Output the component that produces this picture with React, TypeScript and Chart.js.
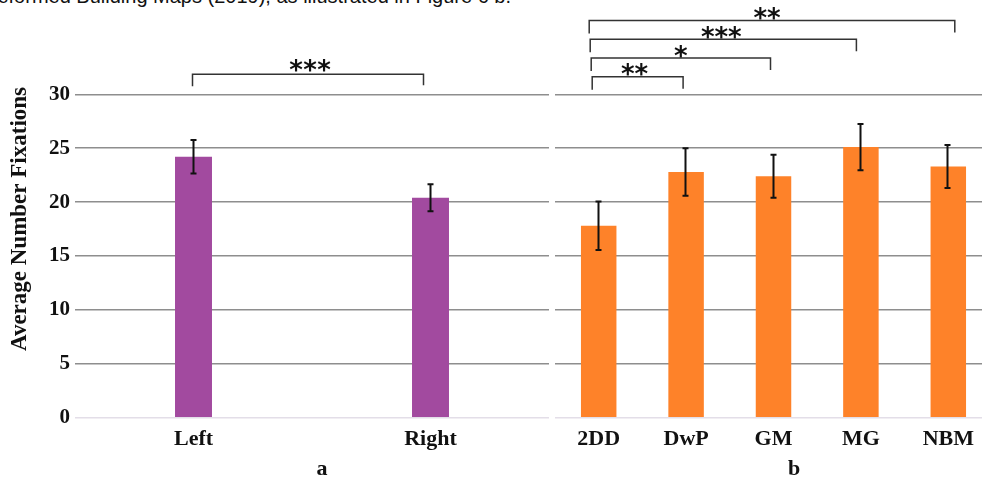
import React, { useEffect, useRef } from "react";
import { Chart, registerables } from "chart.js";

Chart.register(...registerables);

// ---------- data ----------
const leftCategories = ["Left", "Right"];
const leftValues = [24.2, 20.4];
const leftErrors = [1.55, 1.25];

const rightCategories = ["2DD", "DwP", "GM", "MG", "NBM"];
const rightValues = [17.8, 22.8, 22.4, 25.1, 23.3];
const rightErrors = [2.25, 2.2, 2.0, 2.15, 2.0];

const yMin = 0;
const yMax = 30;
const yStep = 5;

const yTitle = "Average Number Fixations";
const leftPanelLabel = "a";
const rightPanelLabel = "b";
const captionText = "Deformed Building Maps (2019), as illustrated in Figure 6 b.";

// significance brackets (category indexes), listed from lowest to highest
const leftBrackets = [{ from: 0, to: 1, stars: "***" }];
const rightBrackets = [
  { from: 0, to: 1, stars: "**" },
  { from: 0, to: 2, stars: "*" },
  { from: 0, to: 3, stars: "***" },
  { from: 0, to: 4, stars: "**" },
];

// ---------- styles ----------
const SERIF = "'Liberation Serif', 'Times New Roman', serif";
const PURPLE = "#a24a9f";
const ORANGE = "#fe8229";
const GRID = "#8e8e8e";
const ZERO = "#e3dee8";

const errorBarPlugin = {
  id: "errorBars",
  afterDatasetsDraw(chart: any, _args: any, opts: any) {
    const { ctx } = chart;
    const meta = chart.getDatasetMeta(0);
    const ys = chart.scales.y;
    const vals = chart.data.datasets[0].data as number[];
    const errs = opts.errors as number[];
    ctx.save();
    ctx.strokeStyle = "#111";
    ctx.lineWidth = 2;
    meta.data.forEach((bar: any, i: number) => {
      const x = Math.round(bar.x) - 0.5;
      const top = ys.getPixelForValue(vals[i] + errs[i]);
      const bot = ys.getPixelForValue(vals[i] - errs[i]);
      ctx.beginPath();
      ctx.moveTo(x, top);
      ctx.lineTo(x, bot);
      ctx.moveTo(x - 3, top);
      ctx.lineTo(x + 3, top);
      ctx.moveTo(x - 3, bot);
      ctx.lineTo(x + 3, bot);
      ctx.stroke();
    });
    ctx.restore();
  },
};

const yTitlePlugin = {
  id: "yTitleCustom",
  afterDraw(chart: any, _args: any, opts: any) {
    if (!opts || !opts.text) return;
    const { ctx } = chart;
    ctx.save();
    ctx.translate(opts.x, opts.y);
    ctx.rotate(-Math.PI / 2);
    ctx.fillStyle = "#111";
    ctx.font = `bold 23px ${SERIF}`;
    ctx.textAlign = "center";
    ctx.textBaseline = "middle";
    ctx.fillText(opts.text, 0, 0);
    ctx.restore();
  },
};

const bracketPlugin = {
  id: "brackets",
  afterDraw(chart: any, _args: any, opts: any) {
    const { ctx, chartArea } = chart;
    const xs = chart.scales.x;
    ctx.save();
    (opts.items as any[]).forEach((b, level) => {
      const yLine = chartArea.top - opts.base - level * opts.step;
      const x1 = xs.getPixelForValue(b.from) + opts.startNudge - level;
      const x2 = xs.getPixelForValue(b.to) + (opts.endNudges[level] ?? 0);
      ctx.strokeStyle = "#333";
      ctx.lineWidth = 1.5;
      ctx.beginPath();
      ctx.moveTo(x1, yLine + opts.tick + 1);
      ctx.lineTo(x1, yLine);
      ctx.lineTo(x2, yLine);
      ctx.lineTo(x2, yLine + opts.tick);
      ctx.stroke();
      // stars
      ctx.fillStyle = "#111";
      ctx.font = "bold 26px 'DejaVu Sans'";
      ctx.textAlign = "center";
      ctx.textBaseline = "alphabetic";
      const n = b.stars.length;
      const cx = (x1 + x2) / 2 + (opts.starNudges[level] ?? 0);
      const cy = yLine - opts.starGap;
      for (let k = 0; k < n; k++) {
        const sx = cx + (k - (n - 1) / 2) * opts.starSpacing;
        ctx.fillText("*", sx, cy + 14.5);
      }
    });
    ctx.restore();
  },
};

function baseScales(showY: boolean, yWidth: number) {
  return {
    x: {
      grid: { display: false },
      border: { display: false },
      ticks: {
        color: "#111",
        font: { family: SERIF, size: 22, weight: "bold" },
        padding: 0,
      },
      afterFit: (s: any) => {
        s.height = 63.3;
      },
    },
    y: {
      min: yMin,
      max: yMax,
      border: { display: false },
      grid: {
        color: (c: any) => (c.tick && c.tick.value === 0 ? ZERO : GRID),
        lineWidth: 1.5,
        drawTicks: false,
      },
      ticks: {
        display: showY,
        stepSize: yStep,
        color: "#111",
        font: { family: SERIF, size: 21, weight: "bold" },
        padding: 5,
      },
      title: { display: false },
      afterFit: (s: any) => {
        s.width = yWidth;
      },
    },
  };
}

function BarPanel(props: {
  labels: string[];
  values: number[];
  errors: number[];
  color: string;
  barPct: number;
  showY: boolean;
  yWidth: number;
  padRight: number;
  brackets: any;
  left: number;
  width: number;
}) {
  const ref = useRef<HTMLCanvasElement | null>(null);
  useEffect(() => {
    if (!ref.current) return;
    const chart = new Chart(ref.current, {
      type: "bar",
      data: {
        labels: props.labels,
        datasets: [
          {
            data: props.values,
            backgroundColor: props.color,
            borderWidth: 0,
            barPercentage: props.barPct,
            categoryPercentage: 1,
          },
        ],
      },
      options: {
        animation: false,
        responsive: false,
        maintainAspectRatio: false,
        devicePixelRatio: 1,
        layout: { padding: { top: 94.3, right: props.padRight, left: 0, bottom: 0 } },
        plugins: {
          legend: { display: false },
          tooltip: { enabled: false },
          errorBars: { errors: props.errors },
          brackets: props.brackets,
          yTitleCustom: props.showY ? { text: yTitle, x: 20, y: 219 } : {},
        } as any,
        scales: baseScales(props.showY, props.yWidth) as any,
      },
      plugins: [errorBarPlugin, bracketPlugin, yTitlePlugin],
    });
    return () => chart.destroy();
  }, []);
  return (
    <canvas
      ref={ref}
      width={props.width}
      height={481}
      style={{
        position: "absolute",
        left: props.left,
        top: 0,
        width: props.width,
        height: 481,
        display: "block",
      }}
    />
  );
}

const panelLetterStyle: React.CSSProperties = {
  position: "absolute",
  width: 60,
  top: 457,
  textAlign: "center",
  fontFamily: SERIF,
  fontWeight: "bold",
  fontSize: 22,
  lineHeight: "22px",
  color: "#111",
};

export default function App() {
  return (
    <div
      style={{
        position: "fixed",
        left: 0,
        top: 0,
        width: 982,
        height: 481,
        overflow: "hidden",
        background: "#fff",
      }}
    >
      <div
        style={{
          position: "absolute",
          left: -17,
          top: -14.5,
          whiteSpace: "nowrap",
          fontFamily: "'Liberation Sans', Arial, sans-serif",
          fontSize: 20,
          lineHeight: "20px",
          color: "#111",
        }}
      >
        {captionText}
      </div>
      <BarPanel
        labels={leftCategories}
        values={leftValues}
        errors={leftErrors}
        color={PURPLE}
        barPct={0.156}
        showY={true}
        yWidth={75}
        padRight={3}
        left={0}
        width={552}
        brackets={{
          items: leftBrackets,
          base: 20,
          step: 18.7,
          tick: 11,
          startNudge: -1,
          endNudges: [-7],
          starNudges: [2],
          starGap: 10,
          starSpacing: 14,
        }}
      />
      <BarPanel
        labels={rightCategories}
        values={rightValues}
        errors={rightErrors}
        color={ORANGE}
        barPct={0.406}
        showY={false}
        yWidth={0}
        padRight={3}
        left={555}
        width={440}
        brackets={{
          items: rightBrackets,
          base: 17.6,
          step: 18.7,
          tick: 12,
          startNudge: -6.5,
          endNudges: [-3, -3, -4.5, 6.5],
          starNudges: [-3, 0, -2, -5],
          starGap: 8,
          starSpacing: 13.5,
        }}
      />
      <div style={{ ...panelLetterStyle, left: 322 - 30 }}>{leftPanelLabel}</div>
      <div style={{ ...panelLetterStyle, left: 794 - 30 }}>{rightPanelLabel}</div>
    </div>
  );
}
